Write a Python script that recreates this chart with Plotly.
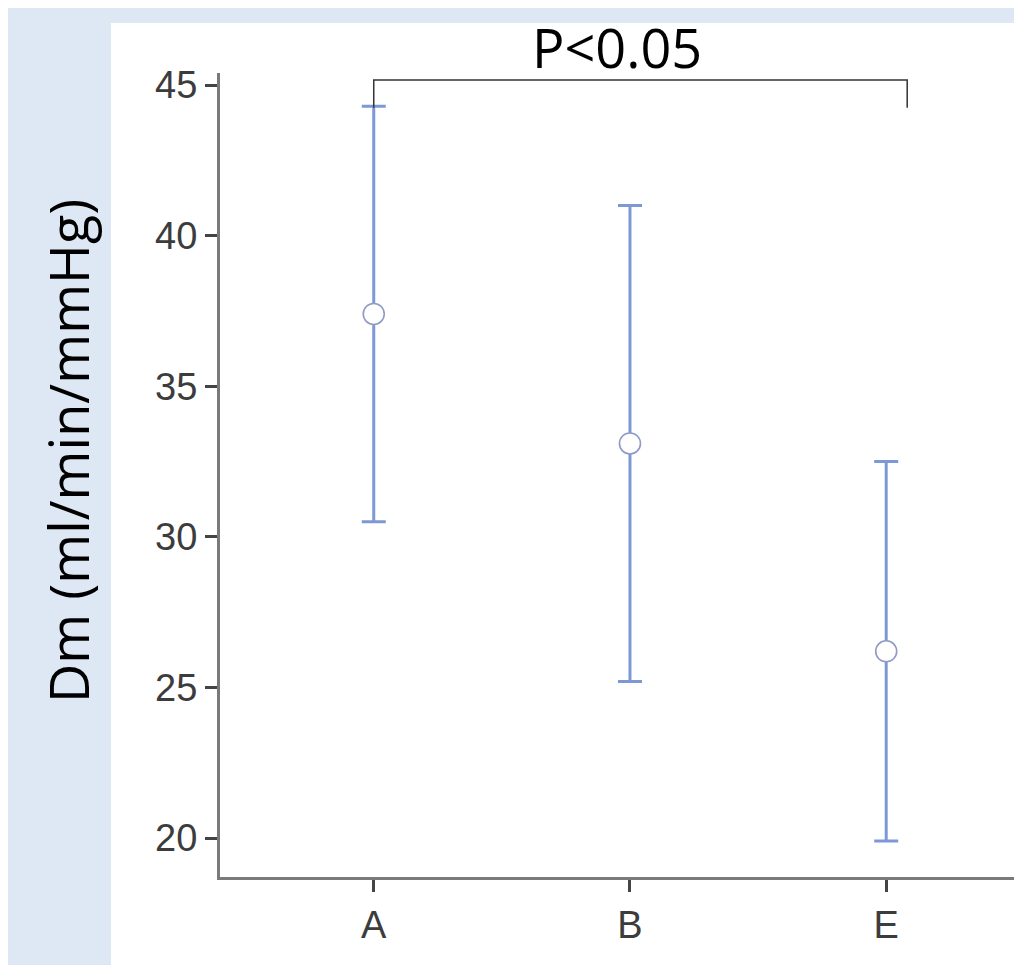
import plotly.graph_objects as go

categories = ["A", "B", "E"]
means = [37.4, 33.1, 26.2]
upper = [44.3, 41.0, 32.5]
lower = [30.5, 25.2, 19.9]
y_ticks = [20, 25, 30, 35, 40, 45]
y_label = "Dm (ml/min/mmHg)"
sig_text = "P<0.05"
bracket_top = 45.17
bracket_leg_bottom = 44.25

xs = list(range(len(categories)))
err_plus = [u - m for u, m in zip(upper, means)]
err_minus = [m - l for m, l in zip(means, lower)]

fig = go.Figure()
fig.add_trace(go.Scatter(
    x=xs, y=means, mode="markers",
    marker=dict(size=21, color="white", line=dict(color="#8f9bc6", width=1.6)),
    error_y=dict(type="data", symmetric=False, array=err_plus, arrayminus=err_minus,
                 color="#7e98d6", thickness=3, width=12),
    showlegend=False,
))

# significance bracket between first and last group
fig.add_trace(go.Scatter(
    x=[xs[0], xs[0], xs[-1] + 0.082, xs[-1] + 0.082],
    y=[bracket_leg_bottom, bracket_top, bracket_top, bracket_leg_bottom],
    mode="lines", line=dict(color="#333333", width=1.5), showlegend=False,
    hoverinfo="skip",
))

fig.add_annotation(x=0.95, y=bracket_top, xref="x", yref="y", text=sig_text,
                   showarrow=False, yanchor="bottom", yshift=-6,
                   font=dict(family="Open Sans", size=54, color="black"))

fig.add_annotation(x=(60 - 212) / 802, y=0.53, xref="paper", yref="paper",
                   text=y_label, textangle=-90, showarrow=False,
                   width=600, height=80, align="center", valign="middle",
                   xanchor="center", yanchor="middle",
                   font=dict(family="Open Sans", size=54, color="black"))

# white panel
fig.add_shape(type="rect", xref="paper", yref="paper",
              x0=(103 - 212) / 802, x1=1.02, y0=-0.2, y1=(869 - 15) / 804,
              fillcolor="white", line=dict(width=0), layer="below")

fig.update_layout(
    width=1014, height=957,
    margin=dict(l=212, r=0, t=65, b=88),
    paper_bgcolor="#dde8f4",
    plot_bgcolor="white",
    xaxis=dict(range=[-0.6, 2.53], tickvals=xs, ticktext=categories,
               showgrid=False, zeroline=False, showline=True, linecolor="#7a7a7a",
               linewidth=3, ticks="outside", ticklen=12, tickwidth=2.5, tickcolor="#444",
               tickfont=dict(family="Liberation Sans", size=38, color="#3c3c3c")),
    yaxis=dict(range=[18.705, 45.40], tickvals=y_ticks,
               showgrid=False, zeroline=False, showline=True, linecolor="#7a7a7a",
               linewidth=3, ticks="outside", ticklen=12, tickwidth=2.5, tickcolor="#444",
               tickfont=dict(family="Liberation Sans", size=38, color="#3c3c3c")),
)

fig.write_html("out.html")
